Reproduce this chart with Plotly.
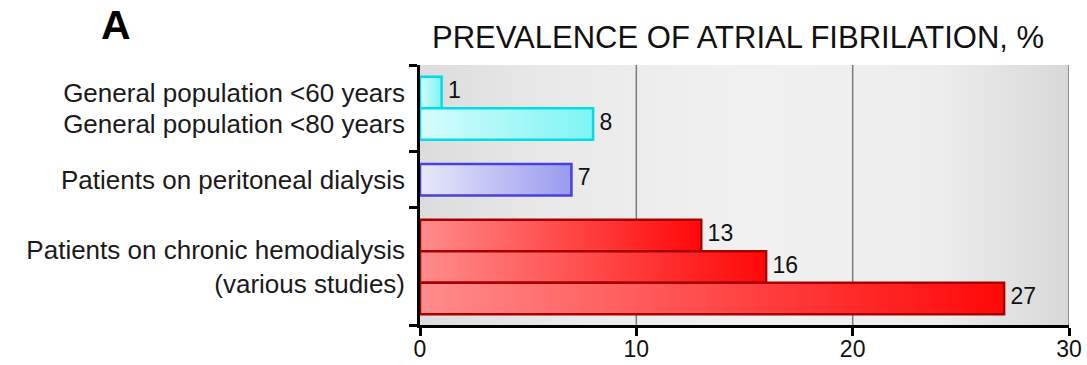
import plotly.graph_objects as go

# Prevalence of atrial fibrillation (%) by population
values = [1, 8, 7, 13, 16, 27]
row_group = [0, 0, 1, 2, 2, 2]
tick_rows = [0, 1, 2, 4]
tick_labels = [
    "General population <60 years",
    "General population <80 years",
    "Patients on peritoneal dialysis",
    "Patients on chronic hemodialysis<br>(various studies)",
]
x_ticks = [0, 10, 20, 30]

# styling per group: edge colour, gradient left -> right
group_edge = ["#00dde6", "#4a40dc", "#a80000"]
group_fill = [
    ("#d6fcfc", "#7ff4f5"),
    ("#e8e8fb", "#9a9af0"),
    ("#ff8c8c", "#ff0808"),
]

TOP_PAD = 0.37
GROUP_GAP = 0.77
BOTTOM_PAD = 0.34

centers = [TOP_PAD + 0.5 + i + g * GROUP_GAP for i, g in enumerate(row_group)]
y_max = centers[-1] + 0.5 + BOTTOM_PAD
bounds = [0.0]
for i in range(1, len(row_group)):
    if row_group[i] != row_group[i - 1]:
        bounds.append((centers[i - 1] + 0.5 + centers[i] - 0.5) / 2)
bounds.append(y_max)

FONT = "Liberation Sans, Arial, sans-serif"
fig = go.Figure()

# plot background with soft horizontal shading
x0, x1 = x_ticks[0], x_ticks[-1]
fig.add_trace(go.Scatter(
    x=[x0, x1, x1, x0, x0], y=[0, 0, y_max, y_max, 0],
    mode="lines", line=dict(width=0), fill="toself",
    fillgradient=dict(type="horizontal", colorscale=[
        [0.0, "#dcdcdc"], [0.2, "#e9e9e9"], [0.5, "#f1f1f1"],
        [0.8, "#ededed"], [1.0, "#d8d8d8"]]),
    hoverinfo="skip", showlegend=False,
))

# vertical grid lines
for t in x_ticks[1:]:
    fig.add_trace(go.Scatter(
        x=[t, t], y=[0, y_max], mode="lines",
        line=dict(color="#7a7a7a", width=1.5),
        hoverinfo="skip", showlegend=False,
    ))

# bars
for v, c, g in zip(values, centers, row_group):
    lo, hi = c - 0.5, c + 0.5
    fig.add_trace(go.Scatter(
        x=[0, v, v, 0, 0], y=[lo, lo, hi, hi, lo],
        mode="lines", line=dict(color=group_edge[g], width=2.5),
        fill="toself",
        fillgradient=dict(type="horizontal", colorscale=[
            [0.0, group_fill[g][0]], [1.0, group_fill[g][1]]]),
        hoverinfo="skip", showlegend=False,
    ))

# value labels
fig.add_trace(go.Scatter(
    x=values, y=centers, mode="text",
    text=[f" {v}" for v in values], textposition="middle right",
    textfont=dict(family=FONT, size=23, color="#111"),
    hoverinfo="skip", showlegend=False,
))

fig.update_layout(
    width=1087, height=365,
    margin=dict(l=420, r=18, t=65, b=40, autoexpand=False),
    paper_bgcolor="white", plot_bgcolor="white",
    xaxis=dict(
        range=[x0, x1], tickvals=x_ticks, showgrid=False, zeroline=False,
        automargin=False,
        showline=True, linecolor="black", linewidth=3,
        ticks="outside", ticklen=8, tickwidth=2.5, tickcolor="black",
        ticklabelstandoff=-7,
        tickfont=dict(family=FONT, size=23, color="#111"),
    ),
    yaxis=dict(
        range=[y_max, 0], tickvals=[centers[i] for i in tick_rows],
        ticktext=tick_labels, showgrid=False, zeroline=False,
        automargin=False,
        ticks="", ticklabelstandoff=14,
        tickfont=dict(family=FONT, size=26, color="#1a1a1a"),
    ),
    yaxis2=dict(
        range=[y_max, 0], overlaying="y", side="left", tickvals=bounds,
        showticklabels=False, showgrid=False, zeroline=False,
        automargin=False,
        showline=True, linecolor="black", linewidth=3,
        ticks="outside", ticklen=8, tickwidth=2.5, tickcolor="black",
    ),
    annotations=[
        dict(text="PREVALENCE OF ATRIAL FIBRILATION, %", xref="paper", yref="paper",
             x=0.49, y=1.0, yshift=8, xanchor="center", yanchor="bottom",
             showarrow=False, font=dict(family=FONT, size=31, color="#111")),
        dict(text="<b>A</b>", xref="paper", yref="paper", x=-0.495, y=1.0,
             yshift=15, xanchor="left", yanchor="bottom", showarrow=False,
             font=dict(family=FONT, size=41, color="black")),
    ],
)
# a trace on yaxis2 so the overlay axis is drawn
fig.add_trace(go.Scatter(x=[None], y=[None], yaxis="y2", showlegend=False))

fig.write_html("out.html")
